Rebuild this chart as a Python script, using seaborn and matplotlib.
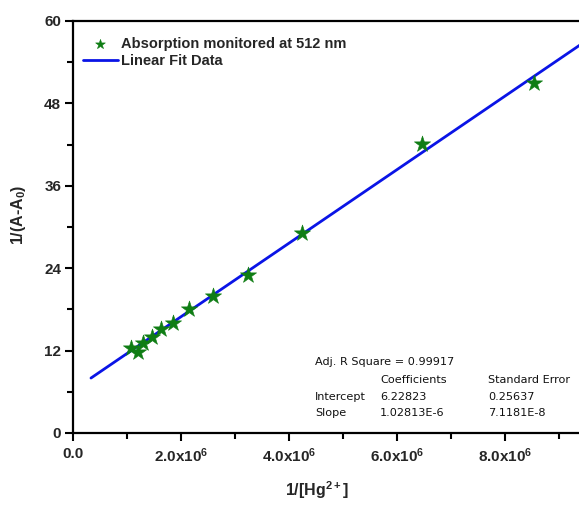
import numpy as np
import pandas as pd
import matplotlib
matplotlib.use("Agg")
import matplotlib.pyplot as plt
from matplotlib.ticker import MultipleLocator, FixedLocator
import seaborn as sns

# ---- data ----
inv_hg = [1.074e6, 1.209e6, 1.302e6, 1.457e6, 1.630e6, 1.857e6,
          2.154e6, 2.598e6, 3.246e6, 4.235e6, 6.469e6, 8.543e6]
inv_abs = [12.37, 11.83, 13.06, 14.02, 15.09, 16.06,
           18.05, 19.99, 23.00, 29.16, 42.02, 50.99]
fit_intercept = 6.22
fit_slope = 5.356e-6
fit_x_range = [0.333e6, 1.0e7]

x_ticks = [0, 2e6, 4e6, 6e6, 8e6]
x_tick_labels = ["0.0", r"2.0x10$^{6}$", r"4.0x10$^{6}$", r"6.0x10$^{6}$", r"8.0x10$^{6}$"]
y_ticks = [0, 12, 24, 36, 48, 60]

stats_rows = [
    ("Adj. R Square = 0.99917", "", ""),
    ("", "Coefficients", "Standard Error"),
    ("Intercept", "6.22823", "0.25637"),
    ("Slope", "1.02813E-6", "7.1181E-8"),
]

sns.set_style("ticks")
plt.rcParams["font.family"] = ["Liberation Sans", "DejaVu Sans"]
plt.rcParams["mathtext.fontset"] = "custom"
plt.rcParams["mathtext.rm"] = "Liberation Sans:bold"
plt.rcParams["mathtext.it"] = "Liberation Sans:bold"
plt.rcParams["mathtext.bf"] = "Liberation Sans:bold"

W, H = 579, 505
fig = plt.figure(figsize=(W / 100, H / 100), dpi=100)
left_px, top_px, bottom_px = 73, 21, 433
ax = fig.add_axes([left_px / W, (H - bottom_px) / H, 540 / W, (bottom_px - top_px) / H])

df = pd.DataFrame({"x": inv_hg, "y": inv_abs})
fx = np.array(fit_x_range)
fit_df = pd.DataFrame({"x": fx, "y": fit_intercept + fit_slope * fx})

sns.lineplot(data=fit_df, x="x", y="y", ax=ax, color="#0a14e6", lw=2.0,
             label="Linear Fit Data", zorder=2)
sns.scatterplot(data=df, x="x", y="y", ax=ax, marker="*", s=150, color="#0f7d14",
                edgecolor="#0f7d14", linewidth=0.4, label="Absorption monitored at 512 nm",
                zorder=3)

ax.set_xlim(0, 1.0e7)
ax.set_ylim(0, 60)
ax.xaxis.set_major_locator(FixedLocator(x_ticks))
ax.set_xticklabels(x_tick_labels)
ax.xaxis.set_minor_locator(MultipleLocator(1e6))
ax.yaxis.set_major_locator(FixedLocator(y_ticks))
ax.yaxis.set_minor_locator(MultipleLocator(6))
ax.tick_params(axis="both", which="major", direction="out", length=6, width=1.5, color="black")
ax.tick_params(axis="both", which="minor", direction="out", length=4, width=1.5, color="black")
ax.tick_params(axis="y", which="major", labelsize=11, pad=2.5)
ax.tick_params(axis="x", which="major", labelsize=11, pad=4)
for lab in ax.get_xticklabels() + ax.get_yticklabels():
    lab.set_fontweight("bold")
for s in ax.spines.values():
    s.set_visible(True)
    s.set_linewidth(1.6)
    s.set_color("black")

ax.set_xlabel(r"1/[Hg$^{2+}$]", fontsize=11.5, fontweight="bold")
ax.set_ylabel(r"1/(A-A$_{0}$)", fontsize=11.5, fontweight="bold")
ax.xaxis.set_label_coords((317 - left_px) / 540, -(479 - bottom_px) / (bottom_px - top_px))
ax.yaxis.set_label_coords((28 - left_px) / 540, (bottom_px - 215) / (bottom_px - top_px))

handles, labels = ax.get_legend_handles_labels()
order = [1, 0]
leg = ax.legend([handles[i] for i in order], [labels[i] for i in order],
                loc="upper left", bbox_to_anchor=(4 / 540, (433 - 31) / 412),
                frameon=False, fontsize=10.5, handlelength=2.4, handletextpad=0.25,
                labelspacing=0.25, markerscale=0.6, borderaxespad=0)
for t in leg.get_texts():
    t.set_fontweight("bold")

col_x = [315, 380, 488]
row_y = [362, 380, 397, 413]
for r, row in enumerate(stats_rows):
    for c, txt in enumerate(row):
        if txt:
            fig.text(col_x[c] / W, 1 - row_y[r] / H, txt, fontsize=8.1,
                     family="DejaVu Sans", va="center", ha="left", color="#111111")

fig.savefig("out.png", dpi=100)
